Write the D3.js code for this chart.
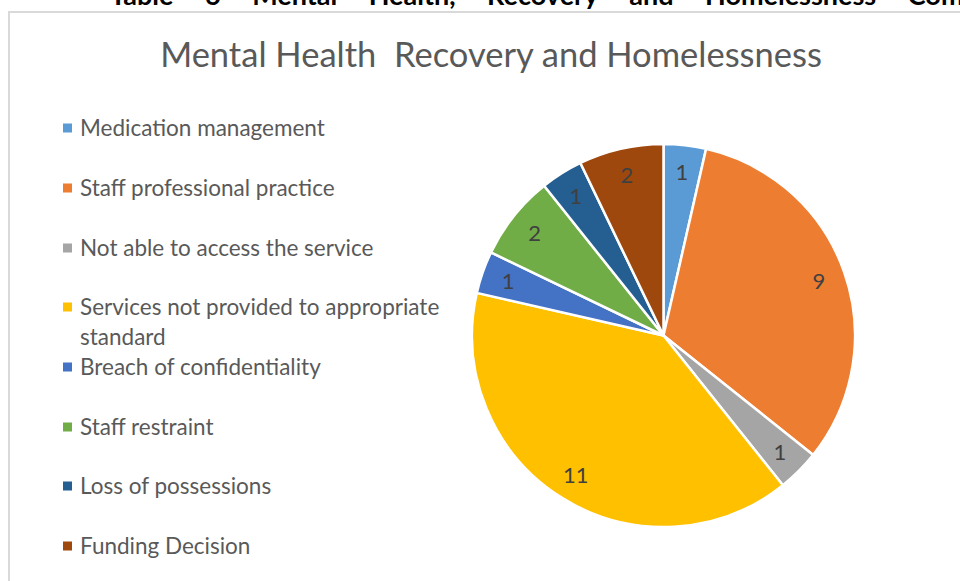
<!DOCTYPE html>
<html><head><meta charset="utf-8">
<script src="https://cdn.jsdelivr.net/npm/d3@7"></script>
<style>body{margin:0;background:#fff;} svg{display:block;} text{white-space:pre;}</style>
</head><body>
<script>
const categories = ["Medication management","Staff professional practice","Not able to access the service","Services not provided to appropriate standard","Breach of confidentiality","Staff restraint","Loss of possessions","Funding Decision"];
const values = [1, 9, 1, 11, 1, 2, 1, 2];
const colors = ["#5B9BD5","#ED7D31","#A5A5A5","#FFC000","#4472C4","#70AD47","#255E91","#9E480E"];
const title = "Mental Health  Recovery and Homelessness";
const heading = "Table 6 Mental Health, Recovery and Homelessness Complaints";

const W = 960, H = 581;
const svg = d3.select("body").append("svg").attr("width", W).attr("height", H);
const font = "Lato, 'Open Sans', sans-serif";

// heading cut off at top
svg.append("text").attr("x", 110).attr("y", 5)
  .attr("font-family", font).attr("font-weight", "bold").attr("font-size", 27)
  .attr("fill", "#000").attr("word-spacing", 25).text(heading);

// chart frame
svg.append("rect").attr("x", 9).attr("y", 12).attr("width", W + 20).attr("height", H + 20)
  .attr("fill", "#fff").attr("stroke", "#d9d9d9").attr("stroke-width", 2);

svg.append("text").attr("x", 491).attr("y", 67).attr("text-anchor", "middle")
  .attr("font-family", font).attr("font-size", 34.5).attr("fill", "#595959").text(title);

// legend
const legendRows = [128, 188, 248, 307, 367, 427, 486, 546];
const lg = svg.append("g");
categories.forEach((c, i) => {
  const y = legendRows[i];
  lg.append("rect").attr("x", 63).attr("y", y - 4.5).attr("width", 9).attr("height", 9).attr("fill", colors[i]);
  const t = lg.append("text").attr("x", 80).attr("y", y + 7.5)
    .attr("font-family", font).attr("font-size", 22.5).attr("fill", "#595959");
  if (i === 3) {
    t.append("tspan").attr("x", 80).text("Services not provided to appropriate");
    t.append("tspan").attr("x", 80).attr("dy", 30).text("standard");
  } else t.text(c);
});

// pie
const cx = 663.5, cy = 335.5, r = 191.5;
const pie = d3.pie().sort(null).value(d => d)(values);
const arc = d3.arc().innerRadius(0).outerRadius(r);
const labelArc = d3.arc().innerRadius(r * 0.86).outerRadius(r * 0.86);
const g = svg.append("g").attr("transform", `translate(${cx},${cy})`);
g.selectAll("path").data(pie).join("path")
  .attr("d", arc).attr("fill", (d, i) => colors[i])
  .attr("stroke", "#fff").attr("stroke-width", 2.5).attr("stroke-linejoin", "round");
g.selectAll("text").data(pie).join("text")
  .attr("transform", d => `translate(${labelArc.centroid(d)})`)
  .attr("text-anchor", "middle").attr("dy", "0.35em")
  .attr("font-family", font).attr("font-size", 22).attr("fill", "#404040")
  .text(d => d.data);
</script>
</body></html>
